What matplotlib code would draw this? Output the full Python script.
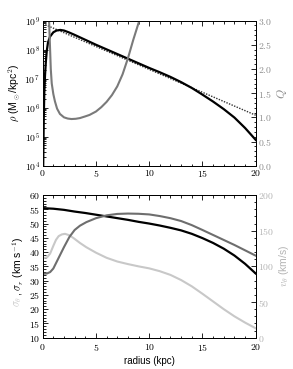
import numpy as np
import matplotlib
matplotlib.use('Agg')
import matplotlib.pyplot as plt
from matplotlib.ticker import FuncFormatter, MultipleLocator, LogLocator, NullFormatter

plt.rcParams['font.family'] = ['Liberation Sans', 'DejaVu Sans']
plt.rcParams['mathtext.fontset'] = 'cm'

# top panel: surface density (log10 of Msun/kpc^2) and Toomre Q
r_rho = [0.0, 0.05, 0.1, 0.15, 0.22, 0.3, 0.38, 0.5, 0.69, 1.0, 1.3, 1.65, 2.0, 2.5, 3.0,
         4.0, 5.0, 6.0, 7.0, 8.0, 9.0, 10.0, 11.0, 12.0, 13.0, 14.0, 15.0, 16.0, 17.0,
         18.0, 19.0, 20.0]
log_rho = [2.0, 4.0, 5.6, 6.5, 7.13, 7.6, 7.95, 8.25, 8.45, 8.60, 8.66, 8.68, 8.66, 8.59, 8.51,
           8.34, 8.17, 8.01, 7.85, 7.69, 7.53, 7.37, 7.22, 7.06, 6.88, 6.68, 6.45, 6.21, 5.95,
           5.66, 5.30, 4.89]
r_disk = [0.0, 20.0]
log_disk = [8.90, 5.74]

r_q = [0.55, 0.6, 0.68, 0.76, 0.85, 1.0, 1.15, 1.35, 1.62, 2.0, 2.35, 2.7, 3.1, 3.5, 4.0, 4.4,
       5.0, 5.5, 6.0, 6.5, 7.0, 7.5, 8.0, 8.5, 9.07, 9.3]
q_val = [3.3, 3.0, 2.5, 2.0, 1.7, 1.48, 1.33, 1.18, 1.07, 1.0, 0.975, 0.965, 0.97, 0.985, 1.02, 1.05,
         1.12, 1.21, 1.32, 1.46, 1.64, 1.89, 2.22, 2.60, 3.0, 3.2]

# bottom panel: dispersions (km/s) and rotation velocity (km/s)
r_b = [0.0, 1.0, 2.0, 3.0, 4.0, 5.0, 6.0, 7.0, 8.0, 9.0, 10.0, 11.0, 12.0, 13.0, 14.0,
       15.0, 16.0, 17.0, 18.0, 19.0, 20.0]
sig_r = [55.4, 55.2, 54.8, 54.2, 53.7, 53.1, 52.5, 51.9, 51.3, 50.6, 50.0, 49.3, 48.5, 47.6, 46.4,
         44.9, 43.2, 41.2, 38.8, 35.9, 32.5]

r_st = [0.0, 0.4, 0.7, 1.0, 1.25, 1.5, 1.8, 2.1, 2.5, 2.9, 3.5, 4.1, 5.0, 6.0, 7.0, 8.0, 9.0,
        10.0, 11.0, 12.0, 13.0, 14.0, 15.0, 16.0, 17.0, 18.0, 19.0, 20.0]
sig_t = [37.9, 38.1, 39.5, 42.2, 44.3, 45.6, 46.2, 46.4, 45.9, 44.9, 43.2, 41.7, 39.8, 38.0, 36.7,
         35.8, 35.0, 34.3, 33.3, 32.0, 30.2, 28.0, 25.4, 22.7, 20.0, 17.5, 15.3, 13.3]

r_v = [0.0, 0.4, 0.7, 1.0, 1.3, 1.6, 2.0, 2.5, 3.0, 3.5, 4.1, 5.0, 6.0, 7.0, 8.0, 9.0, 10.0,
       11.0, 12.0, 13.0, 14.0, 15.0, 16.0, 17.0, 18.0, 19.0, 20.0]
v_t = [89.5, 90, 92, 97, 106, 115, 127, 141, 151, 157, 162, 167.5, 171.5, 173.5, 174, 173.7, 172.8,
       170.5, 167.5, 163.5, 157.8, 151, 144, 137, 130, 122.5, 115]

fs = 7
lfs = 7.5
grey_q = '#7a7a7a'
grey_v = '#6e6e6e'
light = '#c8c8c8'

def mfmt(fmt):
    return FuncFormatter(lambda v, p: ('$' + fmt + '$') % v)

def style(ax):
    ax.tick_params(which='both', direction='in', labelsize=fs, pad=2, width=0.6)
    ax.tick_params(which='major', length=3.5)
    ax.tick_params(which='minor', length=1.8)
    for s in ax.spines.values():
        s.set_linewidth(0.7)

fig = plt.figure(figsize=(2.93, 3.69), dpi=100)
ax1 = fig.add_axes([0.1457, 0.551, 0.727, 0.393])
ax2 = fig.add_axes([0.1457, 0.0848, 0.727, 0.3867])

# top
ax1.plot(r_rho, 10**np.array(log_rho), color='black', lw=1.6, zorder=3)
ax1.plot(r_disk, 10**np.array(log_disk), color='#333333', lw=1.0, ls=(0, (1, 1)), zorder=2)
ax1.set_yscale('log')
ax1.set_ylim(1e4, 1e9)
ax1.set_xlim(0, 20)
ax1.yaxis.set_major_locator(LogLocator(base=10, numticks=10))
ax1.yaxis.set_minor_locator(LogLocator(base=10, subs=np.arange(2, 10), numticks=10))
ax1.yaxis.set_major_formatter(FuncFormatter(lambda v, p: r'$10^{%d}$' % round(np.log10(v))))
ax1.yaxis.set_minor_formatter(NullFormatter())
ax1.xaxis.set_major_locator(MultipleLocator(5))
ax1.xaxis.set_minor_locator(MultipleLocator(1))
ax1.xaxis.set_major_formatter(mfmt('%d'))
ax1.tick_params(which='both', top=True)
style(ax1)
ax1.set_ylabel(r'$\rho$ (M$_\odot$/kpc$^2$)', fontsize=lfs, labelpad=2)

ax1r = ax1.twinx()
ax1r.plot(r_q, q_val, color=grey_q, lw=1.5)
ax1r.set_ylim(0, 3)
ax1r.set_xlim(0, 20)
ax1r.yaxis.set_major_locator(MultipleLocator(0.5))
ax1r.yaxis.set_minor_locator(MultipleLocator(0.1))
ax1r.yaxis.set_major_formatter(mfmt('%.1f'))
style(ax1r)
ax1r.tick_params(axis='y', labelcolor='#8c8c8c')
ax1r.set_ylabel(r'$Q$', fontsize=lfs + 1, color='#8c8c8c', rotation=90, labelpad=2)

# bottom
ax2.plot(r_b, sig_r, color='black', lw=1.6, zorder=3)
ax2.plot(r_st, sig_t, color=light, lw=1.5, zorder=2)
ax2.set_xlim(0, 20)
ax2.set_ylim(10, 60)
ax2.yaxis.set_major_locator(MultipleLocator(5))
ax2.yaxis.set_minor_locator(MultipleLocator(1))
ax2.yaxis.set_major_formatter(mfmt('%d'))
ax2.xaxis.set_major_locator(MultipleLocator(5))
ax2.xaxis.set_minor_locator(MultipleLocator(1))
ax2.xaxis.set_major_formatter(mfmt('%d'))
ax2.tick_params(which='both', top=True)
style(ax2)
ax2.tick_params(axis='x', pad=3)
ax2.set_xlabel('radius (kpc)', fontsize=7, labelpad=2)
ax2.set_ylabel(r', $\sigma_r$ (km s$^{-1}$)', fontsize=lfs, labelpad=2)

ax2r = ax2.twinx()
ax2r.plot(r_v, v_t, color=grey_v, lw=1.5)
ax2r.set_xlim(0, 20)
ax2r.set_ylim(0, 200)
ax2r.yaxis.set_major_locator(MultipleLocator(50))
ax2r.yaxis.set_minor_locator(MultipleLocator(10))
ax2r.yaxis.set_major_formatter(mfmt('%d'))
style(ax2r)
ax2r.tick_params(axis='y', labelcolor='#b4b4b4')
ax2r.set_ylabel(r'$v_\theta$ (km/s)', fontsize=lfs, color='#b4b4b4', labelpad=2)

# coloured sigma_theta piece of the left label
fig.canvas.draw()
bb = ax2.yaxis.label.get_window_extent()
xc, y0 = fig.transFigure.inverted().transform(((bb.x0 + bb.x1) / 2, bb.y0))
fig.text(xc, y0, r'$\sigma_\theta$', rotation=90, ha='center', va='top',
         fontsize=lfs, color=light)

fig.savefig('out.png', dpi=100)
